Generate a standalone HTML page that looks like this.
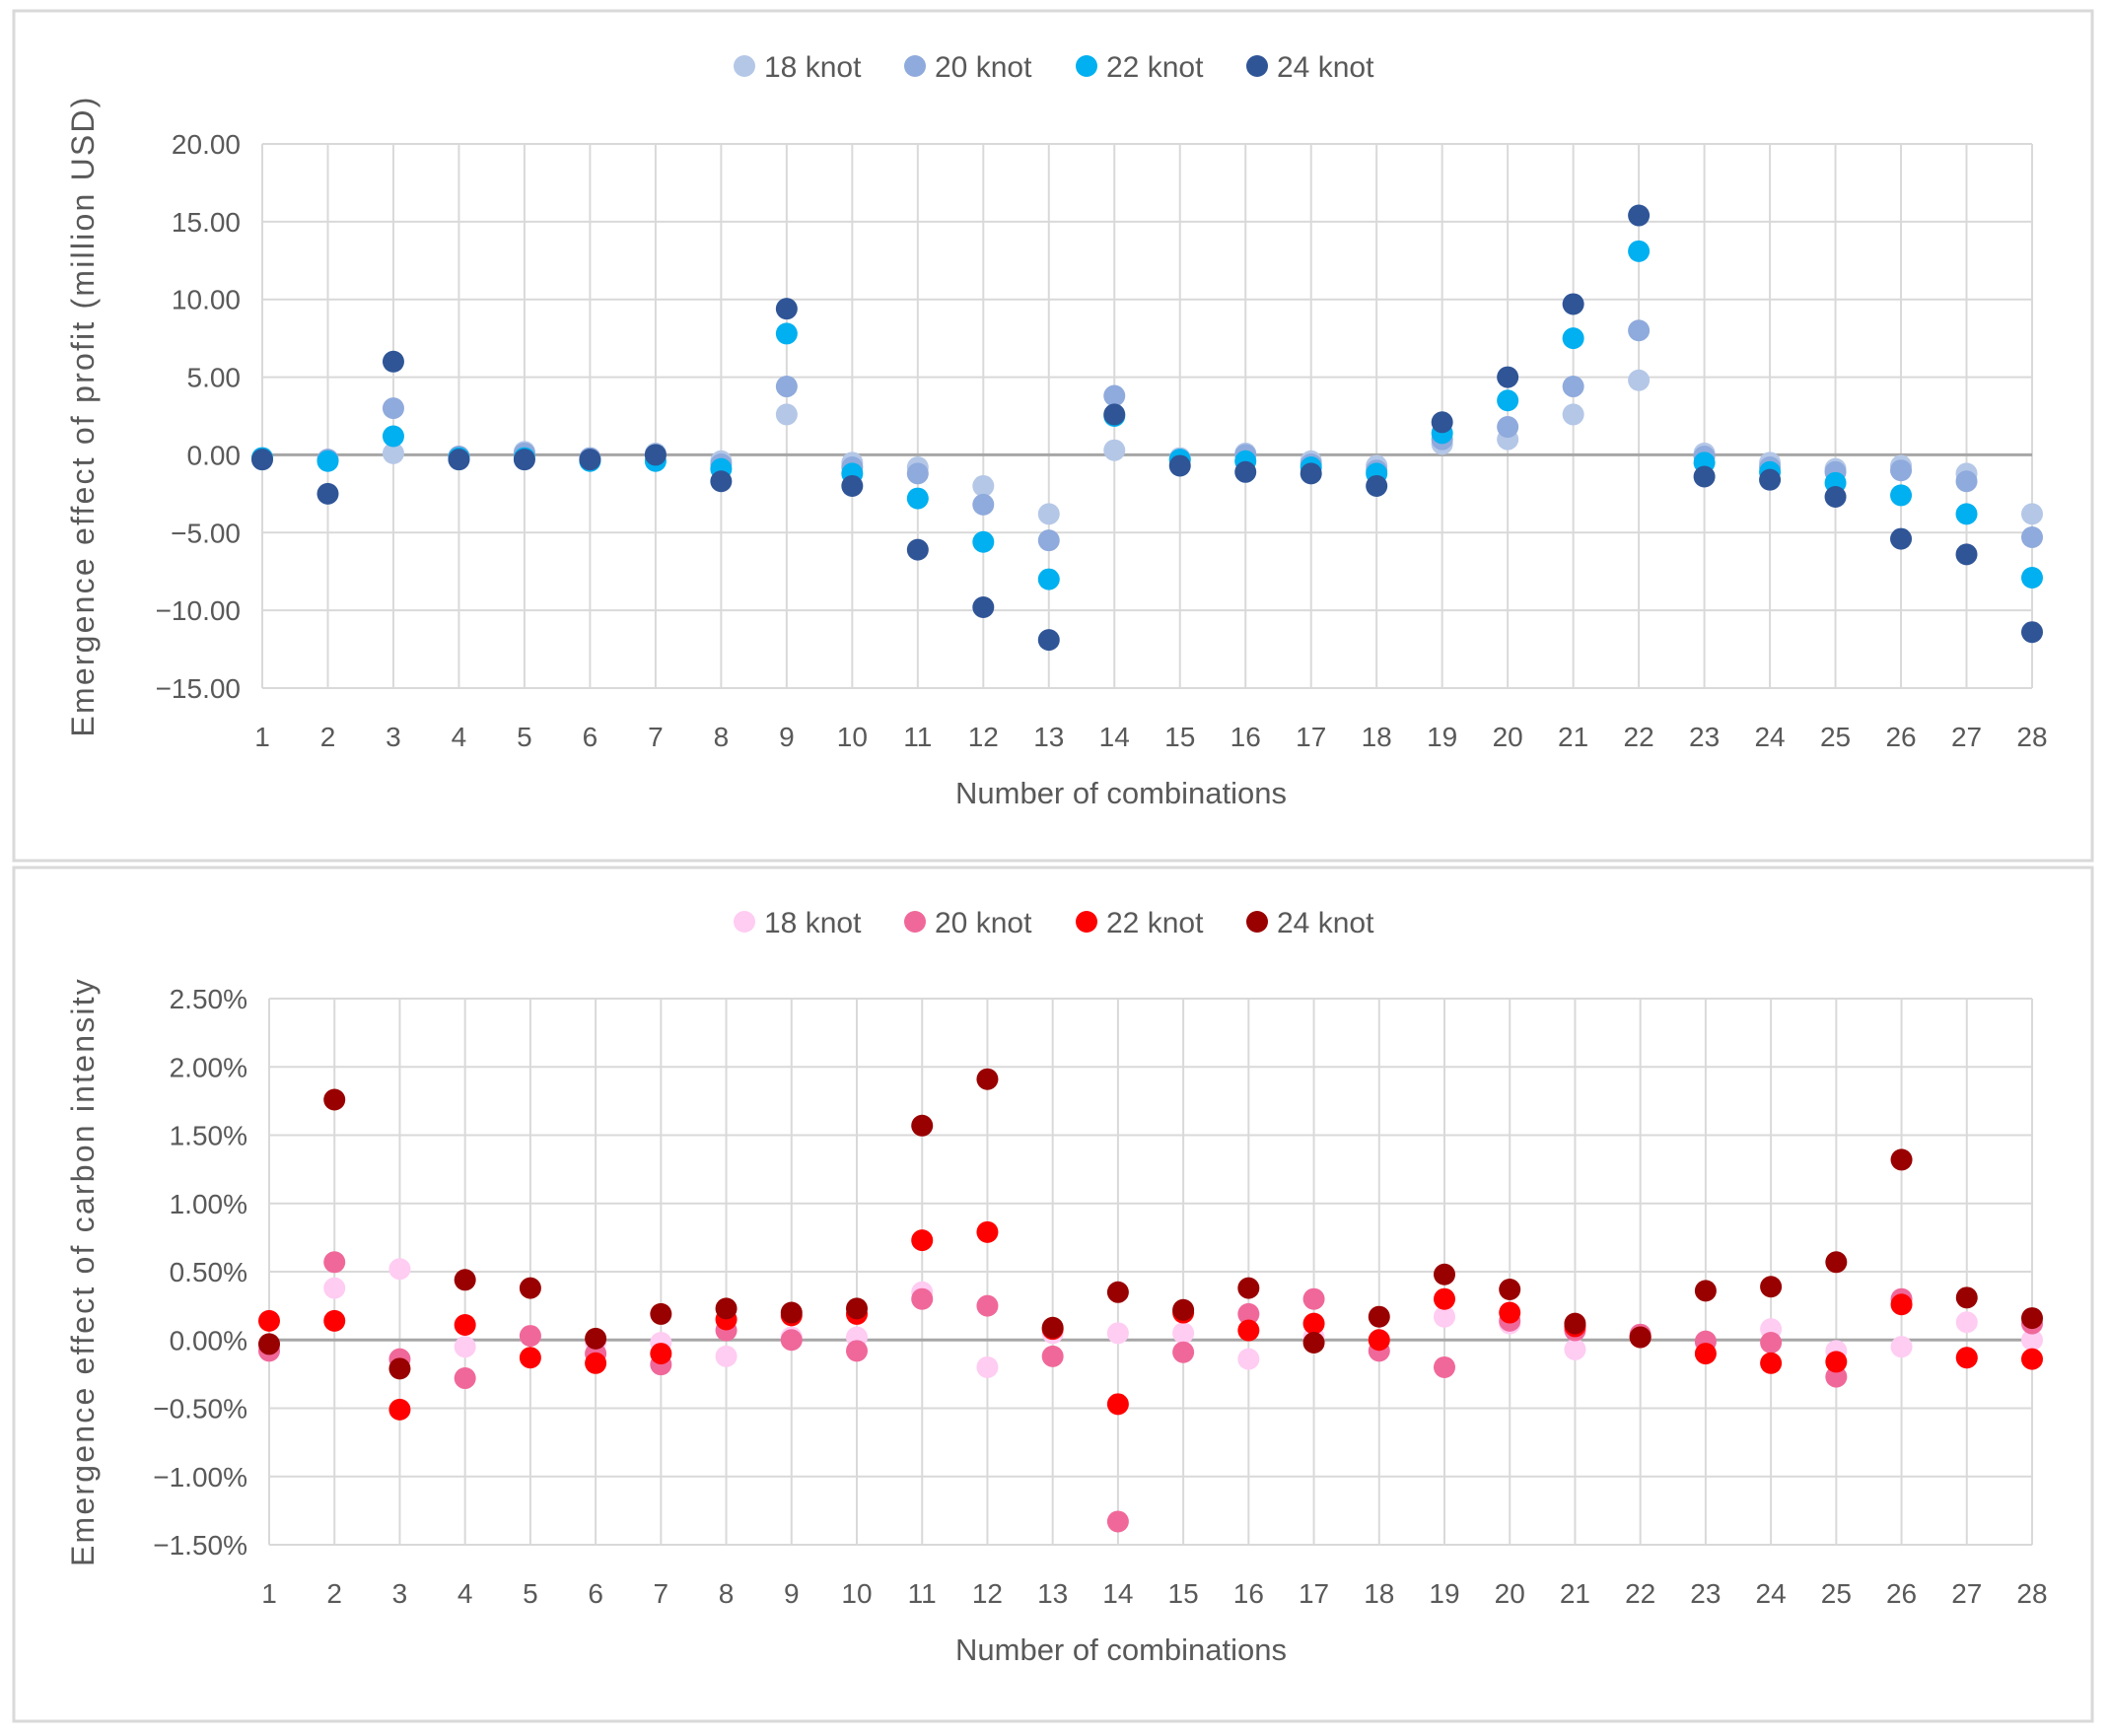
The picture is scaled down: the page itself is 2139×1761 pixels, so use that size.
<!DOCTYPE html>
<html><head><meta charset="utf-8"><style>
html,body{margin:0;padding:0;background:#fff;}
svg{display:block;font-family:"Liberation Sans",sans-serif;}
</style></head><body>
<svg id="c" width="2139" height="1761" viewBox="0 0 2139 1761" xmlns="http://www.w3.org/2000/svg">
<rect x="14" y="11" width="2108" height="862" fill="#fff" stroke="#d9d9d9" stroke-width="3"/>
<rect x="14" y="880" width="2108" height="866" fill="#fff" stroke="#d9d9d9" stroke-width="3"/>
<g id="g1"></g>
<g id="g2"></g>
</svg>
<script>
const categories = [1,2,3,4,5,6,7,8,9,10,11,12,13,14,15,16,17,18,19,20,21,22,23,24,25,26,27,28];
const seriesNames = ["18 knot","20 knot","22 knot","24 knot"];
const profitTicks = [20,15,10,5,0,-5,-10,-15];
const profit18 = [-0.2,-0.3,0.1,-0.1,0.2,-0.3,0.1,-0.4,2.6,-0.5,-0.8,-2.0,-3.8,0.3,-0.2,0.1,-0.4,-0.7,0.7,1.0,2.6,4.8,0.1,-0.5,-0.9,-0.7,-1.2,-3.8];
const profit20 = [-0.2,-0.3,3.0,-0.1,0.1,-0.2,0.0,-0.6,4.4,-0.8,-1.2,-3.2,-5.5,3.8,-0.3,0.0,-0.6,-1.0,1.0,1.8,4.4,8.0,-0.1,-0.8,-1.1,-1.0,-1.7,-5.3];
const profit22 = [-0.2,-0.4,1.2,-0.2,-0.2,-0.4,-0.4,-0.9,7.8,-1.2,-2.8,-5.6,-8.0,2.5,-0.3,-0.4,-0.8,-1.2,1.4,3.5,7.5,13.1,-0.5,-1.1,-1.8,-2.6,-3.8,-7.9];
const profit24 = [-0.3,-2.5,6.0,-0.3,-0.3,-0.3,0.0,-1.7,9.4,-2.0,-6.1,-9.8,-11.9,2.6,-0.7,-1.1,-1.2,-2.0,2.1,5.0,9.7,15.4,-1.4,-1.6,-2.7,-5.4,-6.4,-11.4];
const carbonTicks = [2.5,2.0,1.5,1.0,0.5,0,-0.5,-1.0,-1.5];
const carbon18 = [-0.05,0.38,0.52,-0.05,0.03,-0.02,-0.02,-0.12,0.02,0.02,0.35,-0.20,0.05,0.05,0.05,-0.14,0.02,0.0,0.17,0.12,-0.07,0.02,-0.02,0.08,-0.08,-0.05,0.13,0.0];
const carbon20 = [-0.08,0.57,-0.14,-0.28,0.03,-0.10,-0.18,0.07,0.0,-0.08,0.30,0.25,-0.12,-1.33,-0.09,0.19,0.30,-0.08,-0.20,0.14,0.07,0.04,-0.01,-0.02,-0.27,0.30,-0.13,0.12];
const carbon22 = [0.14,0.14,-0.51,0.11,-0.13,-0.17,-0.10,0.15,0.18,0.19,0.73,0.79,0.08,-0.47,0.20,0.07,0.12,0.00,0.30,0.20,0.10,0.02,-0.10,-0.17,-0.16,0.26,-0.13,-0.14];
const carbon24 = [-0.03,1.76,-0.21,0.44,0.38,0.01,0.19,0.23,0.20,0.23,1.57,1.91,0.09,0.35,0.22,0.38,-0.02,0.17,0.48,0.37,0.12,0.02,0.36,0.39,0.57,1.32,0.31,0.16];

const NS="http://www.w3.org/2000/svg";
function mk(tag, attrs, parent){const e=document.createElementNS(NS,tag);for(const k in attrs)e.setAttribute(k,attrs[k]);parent.appendChild(e);return e;}

function drawChart(g, cfg){
  const xS = i => cfg.left + (cfg.right-cfg.left)*(i)/(categories.length-1);
  const yS = v => cfg.top + (cfg.max - v)/(cfg.max-cfg.min)*(cfg.bottom-cfg.top);
  categories.forEach((c,i)=>{
    const l=mk('line',{x1:xS(i),x2:xS(i),y1:cfg.top,y2:cfg.bottom,stroke:'#d9d9d9','stroke-width':2},g);
    
    
    const t=mk('text',{x:xS(i),y:cfg.bottom+59,'text-anchor':'middle','font-size':28,fill:'#595959'},g);
    t.textContent=c;
    
    
  });
  cfg.ticks.forEach(v=>{
    const zero = v===0;
    const l=mk('line',{x1:cfg.left,x2:cfg.right,y1:yS(v),y2:yS(v),stroke:zero?'#a6a6a6':'#d9d9d9','stroke-width':zero?3:2},g);
    
    
    const t=mk('text',{x:cfg.left-22,y:yS(v)+10,'text-anchor':'end','font-size':28,fill:'#595959'},g);
    t.textContent=cfg.fmt(v);
    
    
  });
  const cy=(cfg.top+cfg.bottom)/2;
  const yt=mk('text',{x:0,y:0,transform:`translate(95,${cy}) rotate(-90)`,'text-anchor':'middle','font-size':32,fill:'#595959','letter-spacing':'2.2'},g);
  yt.textContent=cfg.ytitle;
  
  
  const xt=mk('text',{x:1137,y:cfg.bottom+117,'text-anchor':'middle','font-size':31,fill:'#595959'},g);
  xt.textContent='Number of combinations';
  
  
  const lx=[755,928,1102,1275];
  seriesNames.forEach((n,k)=>{
    const c=mk('circle',{cx:lx[k],cy:cfg.legendY,r:11,fill:cfg.colors[k]},g);
    
    
    const t=mk('text',{x:lx[k]+20,y:cfg.legendY+11,'font-size':30,fill:'#595959'},g);
    t.textContent=n;
    
    
  });
  cfg.series.forEach((arr,k)=>{
    arr.forEach((v,i)=>{
      const c=mk('circle',{cx:xS(i),cy:yS(v),r:11,fill:cfg.colors[k]},g);
      
      
    });
  });
}
drawChart(document.getElementById('g1'),{left:266,right:2061,top:146,bottom:698,max:20,min:-15,ticks:profitTicks,
  fmt:v=>v.toFixed(2).replace('-','\u2212'),ytitle:'Emergence effect of profit (million USD)',legendY:67,
  colors:['#b4c7e7','#8faadc','#00b0f0','#2f5597'],series:[profit18,profit20,profit22,profit24]});
drawChart(document.getElementById('g2'),{left:273,right:2061,top:1013,bottom:1567,max:2.5,min:-1.5,ticks:carbonTicks,
  fmt:v=>v.toFixed(2).replace('-','\u2212')+'%',ytitle:'Emergence effect of carbon intensity',legendY:935,
  colors:['#ffccf2','#f0689a','#ff0000','#990000'],series:[carbon18,carbon20,carbon22,carbon24]});
</script>
</body></html>
